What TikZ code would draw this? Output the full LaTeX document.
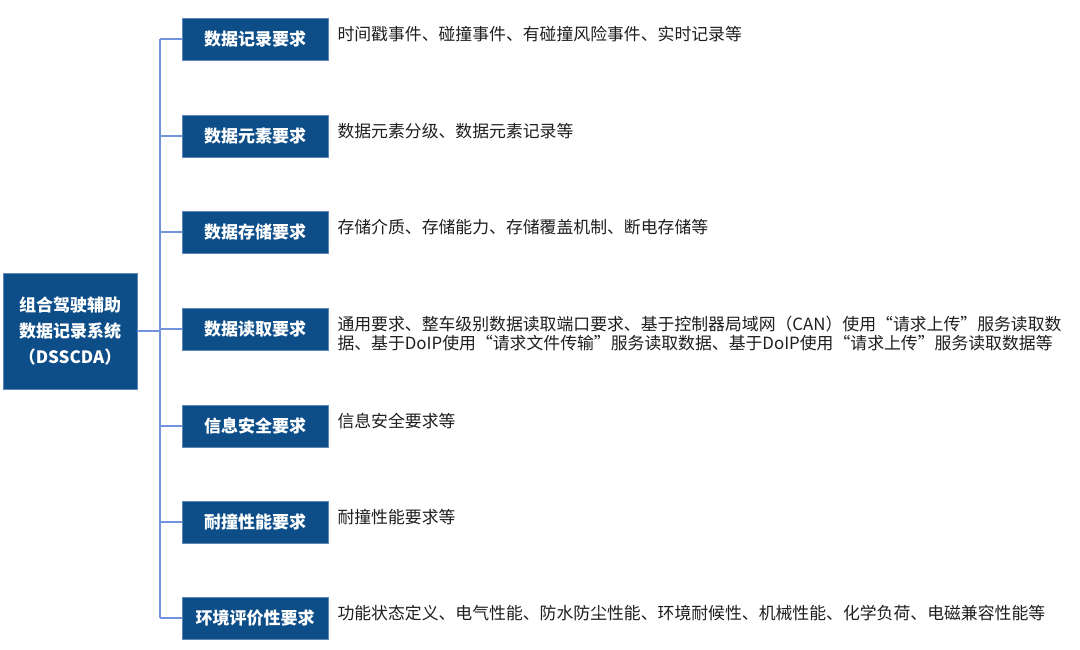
\documentclass[tikz,border=0pt]{standalone}
\usepackage{fontspec}
\usepackage{xcolor}
\usetikzlibrary{positioning}
\newfontfamily\cjk{Noto Sans CJK SC}
\definecolor{boxblue}{HTML}{0D4E89}
\definecolor{boxedge}{HTML}{5E86B8}
\definecolor{linkblue}{HTML}{7393DE}
\definecolor{desctext}{HTML}{1E1E1E}

\tikzset{
    reqbox/.style={fill=boxblue, draw=boxedge, line width=0.6pt, text=white,
        minimum width=146pt, minimum height=42pt, inner sep=0pt,
        font=\cjk\bfseries\fontsize{17}{19}\selectfont},
    rootbox/.style={reqbox, minimum width=134pt, minimum height=116pt,
        align=center, font=\cjk\bfseries\fontsize{17}{26}\selectfont},
    desc/.style={anchor=north west, inner sep=0pt, align=left, text=desctext,
        font=\cjk\fontsize{16.85}{19}\selectfont},
    link/.style={draw=linkblue, line width=1.5pt}
}

\begin{document}
\begin{tikzpicture}[x=1pt, y=-1pt]
    \useasboundingbox (0,0) rectangle (1080,649);

    % Root box
    \node[rootbox] (root) at (70,331) {组合驾驶辅助\\数据记录系统\\（DSSCDA）};

    % Requirement boxes
    \node[reqbox] (rec)   at (255,39)  {数据记录要求};
    \node[reqbox] (elem)  at (255,136) {数据元素要求};
    \node[reqbox] (store) at (255,232) {数据存储要求};
    \node[reqbox] (read)  at (255,329) {数据读取要求};
    \node[reqbox] (sec)   at (255,426) {信息安全要求};
    \node[reqbox] (crash) at (255,522) {耐撞性能要求};
    \node[reqbox] (env)   at (255,618) {环境评价性要求};

    % Descriptions
    \node[desc] (recT)   at ([xshift=9pt, yshift=-8.5pt]rec.north east)   {时间戳事件、碰撞事件、有碰撞风险事件、实时记录等};
    \node[desc] (elemT)  at ([xshift=9pt, yshift=-8.5pt]elem.north east)  {数据元素分级、数据元素记录等};
    \node[desc] (storeT) at ([xshift=9pt, yshift=-8.5pt]store.north east) {存储介质、存储能力、存储覆盖机制、断电存储等};
    \node[desc] (readT)  at ([xshift=9pt, yshift=-8.5pt]read.north east)  {通用要求、整车级别数据读取端口要求、基于控制器局域网（CAN）使用“请求上传”服务读取数\\据、基于DoIP使用“请求文件传输”服务读取数据、基于DoIP使用“请求上传”服务读取数据等};
    \node[desc] (secT)   at ([xshift=9pt, yshift=-8.5pt]sec.north east)   {信息安全要求等};
    \node[desc] (crashT) at ([xshift=9pt, yshift=-8.5pt]crash.north east) {耐撞性能要求等};
    \node[desc] (envT)   at ([xshift=9pt, yshift=-8.5pt]env.north east)   {功能状态定义、电气性能、防水防尘性能、环境耐候性、机械性能、化学负荷、电磁兼容性能等};

    % Trunk and branches
    \coordinate (trunkTop) at (160,39);
    \coordinate (trunkBot) at (160,618);
    \draw[link] (trunkTop) -- (trunkBot);
    \draw[link] (root.east) -- (root.east -| trunkTop);
    \draw[link] (rec.west) -- (rec.west -| trunkTop);
    \draw[link] (elem.west) -- (elem.west -| trunkTop);
    \draw[link] (store.west) -- (store.west -| trunkTop);
    \draw[link] (read.west) -- (read.west -| trunkTop);
    \draw[link] (sec.west) -- (sec.west -| trunkTop);
    \draw[link] (crash.west) -- (crash.west -| trunkTop);
    \draw[link] (env.west) -- (env.west -| trunkTop);
\end{tikzpicture}
\end{document}
